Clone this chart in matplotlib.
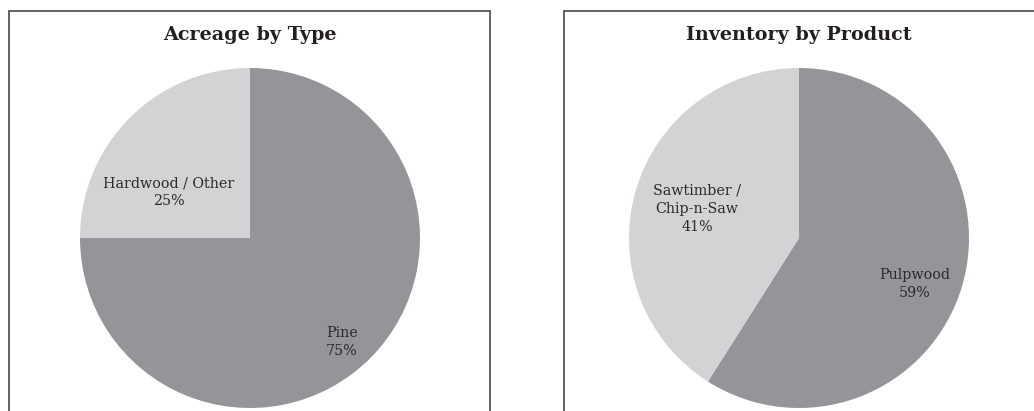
import matplotlib
matplotlib.use("Agg")
import matplotlib.pyplot as plt
from matplotlib.patches import Rectangle

W, H = 1034, 411
DPI = 100

# Data
acreage_labels = ["Pine", "Hardwood / Other"]
acreage_values = [75, 25]
inventory_labels = ["Pulpwood", "Sawtimber /\nChip-n-Saw"]
inventory_values = [59, 41]
titles = ["Acreage by Type", "Inventory by Product"]

DARK = "#939598"
LIGHT = "#d1d3d4"
TXT = "#231f20"
FONT = "DejaVu Serif"

fig = plt.figure(figsize=(W / DPI, H / DPI), dpi=DPI)
fig.patch.set_facecolor("white")

def px_axes(x0, y0, x1, y1):
    return fig.add_axes([x0 / W, 1 - y1 / H, (x1 - x0) / W, (y1 - y0) / H])

# Frames
for bx0, bx1 in [(9, 490), (564, 1045)]:
    fig.patches.append(Rectangle((bx0 / W, -0.1), (bx1 - bx0) / W, 1.1 - 11 / H,
                                 transform=fig.transFigure, fill=False,
                                 edgecolor="#555555", linewidth=1.3, zorder=0))

# Pie positions (pixel centers)
pies = [
    (250, acreage_values, acreage_labels,
     [(0.54, -0.61), (-0.48, 0.27)]),
    (799, inventory_values, inventory_labels,
     [(0.68, -0.27), (-0.60, 0.17)]),
]
cy, r = 238, 170
for i, (cx, vals, labs, pos) in enumerate(pies):
    ax = px_axes(cx - r, cy - r, cx + r, cy + r)
    wedges, _ = ax.pie(vals, colors=[DARK, LIGHT], startangle=90, counterclock=False,
                       radius=1.0, wedgeprops=dict(linewidth=0))
    ax.set_xlim(-1, 1)
    ax.set_ylim(-1, 1)
    ax.set_aspect("equal")
    ax.axis("off")
    for lab, v, (tx, ty) in zip(labs, vals, pos):
        ax.text(tx, ty, f"{lab}\n{v}%", ha="center", va="center", fontsize=10.3,
                family=FONT, color="#2a2a2a", linespacing=1.38)
    fig.text(cx / W, 1 - 35 / H, titles[i], ha="center", va="center",
             fontsize=13.8, fontweight="bold", family=FONT, color=TXT)

fig.savefig("out.png", dpi=DPI, facecolor="white")
